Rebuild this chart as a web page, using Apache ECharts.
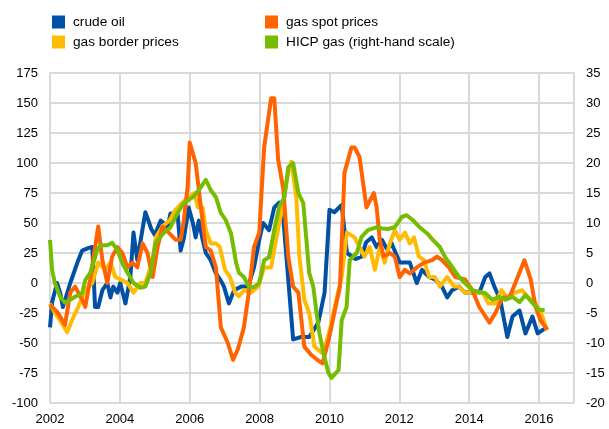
<!DOCTYPE html>
<html>
<head>
<meta charset="utf-8">
<script src="https://cdn.jsdelivr.net/npm/echarts@6/dist/echarts.min.js"></script>
<style>
  html, body { margin: 0; padding: 0; background: #fff; }
  #chart { width: 609px; height: 429px; }
</style>
</head>
<body>
<div id="chart"></div>
<script>
// [year, annual % change]
const crudeOil = [
  [2002.00,-37],[2002.06,-16],[2002.20,0],[2002.29,-8],[2002.37,-20],[2002.58,0],[2002.81,19],[2002.92,27],
  [2003.09,29],[2003.21,30],[2003.29,-20],[2003.38,-20],[2003.50,-6],[2003.64,0],[2003.73,-12],[2003.81,-3],
  [2003.93,-8],[2004.01,0],[2004.16,-17],[2004.30,5],[2004.39,42],[2004.50,19],[2004.73,59],[2004.90,45],
  [2005.00,40],[2005.17,52],[2005.37,47],[2005.45,58],[2005.65,58],[2005.74,27],[2005.83,37],[2005.97,63],
  [2006.09,50],[2006.17,38],[2006.26,52],[2006.37,36],[2006.46,25],[2006.60,19],[2006.75,8],[2006.89,2],
  [2006.98,-3],[2007.12,-17],[2007.27,-6],[2007.47,-3],[2007.67,-3],[2007.84,13],[2007.99,36],[2008.10,50],
  [2008.27,44],[2008.42,63],[2008.56,67],[2008.68,53],[2008.82,3],[2008.96,-47],[2009.19,-45],[2009.42,-45],
  [2009.68,-33],[2009.86,-8],[2010.00,61],[2010.14,59],[2010.35,65],[2010.50,25],[2010.75,20],[2010.92,22],
  [2011.05,34],[2011.21,38],[2011.35,30],[2011.50,36],[2011.65,28],[2011.78,33],[2012.01,17],[2012.30,17],
  [2012.50,0],[2012.65,11],[2012.85,5],[2013.02,3],[2013.22,-3],[2013.37,-12],[2013.51,-6],[2013.71,-3],
  [2013.88,-8],[2014.09,-8],[2014.29,-8],[2014.46,5],[2014.58,8],[2014.72,-3],[2014.89,-14],[2015.09,-45],
  [2015.24,-28],[2015.44,-23],[2015.61,-42],[2015.81,-28],[2015.96,-42],[2016.16,-38]
];
const gasSpot = [
  [2002.00,-18],[2002.23,-25],[2002.43,-35],[2002.58,-8],[2002.72,-3],[2002.92,-14],[2003.01,-20],[2003.15,3],
  [2003.38,47],[2003.50,19],[2003.64,0],[2003.78,22],[2003.93,30],[2004.07,25],[2004.22,13],[2004.36,17],
  [2004.50,13],[2004.65,33],[2004.79,25],[2004.94,5],[2005.08,30],[2005.22,47],[2005.40,42],[2005.60,36],
  [2005.74,36],[2005.83,52],[2005.94,80],[2006.00,117],[2006.17,100],[2006.32,63],[2006.46,30],[2006.60,27],
  [2006.75,13],[2006.89,-37],[2007.09,-50],[2007.24,-64],[2007.38,-55],[2007.55,-37],[2007.70,-6],[2007.84,30],
  [2007.99,42],[2008.13,113],[2008.33,154],[2008.42,154],[2008.53,103],[2008.68,78],[2008.82,22],[2008.96,-3],
  [2009.11,-8],[2009.28,-53],[2009.48,-60],[2009.65,-64],[2009.80,-67],[2009.98,-47],[2010.16,-22],[2010.30,-3],
  [2010.43,92],[2010.63,113],[2010.72,113],[2010.86,105],[2011.06,63],[2011.27,75],[2011.35,63],[2011.44,36],
  [2011.55,22],[2011.73,25],[2011.87,22],[2012.01,5],[2012.16,11],[2012.30,8],[2012.50,13],[2012.71,17],
  [2012.94,19],[2013.08,22],[2013.22,19],[2013.42,13],[2013.60,5],[2013.88,3],[2014.09,-6],[2014.29,-20],
  [2014.58,-33],[2014.75,-25],[2014.95,-12],[2015.15,-12],[2015.32,0],[2015.58,19],[2015.76,3],[2015.90,-20],
  [2016.04,-31],[2016.24,-39]
];
const gasBorder = [
  [2002.00,-17],[2002.14,-25],[2002.29,-31],[2002.49,-41],[2002.63,-31],[2002.81,-20],[2003.01,-6],[2003.21,0],
  [2003.38,17],[2003.58,11],[2003.73,17],[2003.87,5],[2004.01,3],[2004.22,0],[2004.39,-8],[2004.59,0],
  [2004.73,0],[2004.94,19],[2005.03,38],[2005.22,47],[2005.42,52],[2005.59,61],[2005.79,67],[2005.99,72],
  [2006.14,75],[2006.23,63],[2006.37,63],[2006.46,44],[2006.60,33],[2006.75,33],[2006.86,30],[2007.01,11],
  [2007.15,5],[2007.30,-8],[2007.41,-11],[2007.55,-6],[2007.76,-8],[2007.96,-3],[2008.13,13],[2008.33,13],
  [2008.47,36],[2008.62,58],[2008.82,92],[2008.91,101],[2009.05,72],[2009.14,22],[2009.28,-14],[2009.42,-25],
  [2009.57,-53],[2009.77,-58],[2009.90,-50],[2010.03,-37],[2010.15,-20],[2010.35,5],[2010.50,42],[2010.72,38],
  [2010.86,30],[2011.00,22],[2011.15,30],[2011.30,11],[2011.44,30],[2011.58,17],[2011.73,33],[2011.87,44],
  [2012.01,36],[2012.16,42],[2012.30,33],[2012.42,38],[2012.56,22],[2012.71,19],[2012.85,5],[2013.02,5],
  [2013.16,-3],[2013.37,5],[2013.57,-3],[2013.71,-3],[2013.88,-8],[2014.17,-8],[2014.38,-8],[2014.55,-17],
  [2014.75,-17],[2014.92,-6],[2015.09,-12],[2015.32,-8],[2015.52,-6],[2015.69,-12],[2015.90,-17],[2016.10,-28],
  [2016.21,-39]
];
// right-hand scale
const hicpGas = [
  [2002.00,7.2],[2002.06,2.2],[2002.14,0],[2002.29,-2.3],[2002.43,-3.3],[2002.58,-2.8],[2002.72,-2.3],[2002.92,-1.7],
  [2003.01,0.5],[2003.15,1.7],[2003.24,3.3],[2003.35,5.5],[2003.45,6.3],[2003.64,6.3],[2003.78,6.7],[2003.93,5.5],
  [2004.07,3.3],[2004.22,1.7],[2004.39,0],[2004.59,-0.8],[2004.73,-0.6],[2004.88,1.7],[2005.02,6.7],[2005.25,8.3],
  [2005.45,9.3],[2005.65,11.7],[2005.83,13.3],[2006.09,14.3],[2006.26,15.5],[2006.46,17.2],[2006.60,15.5],[2006.75,14.3],
  [2006.89,11.7],[2007.03,10.5],[2007.18,8.3],[2007.33,3.3],[2007.41,1.7],[2007.55,1],[2007.70,-0.7],[2007.84,-0.7],
  [2007.99,0],[2008.13,3.8],[2008.27,4.3],[2008.42,8.8],[2008.56,12.7],[2008.71,14.3],[2008.82,19.3],[2008.96,20],
  [2009.11,15],[2009.25,13.3],[2009.34,7.2],[2009.42,1.7],[2009.54,-0.7],[2009.63,-5],[2009.71,-8.3],[2009.83,-11.7],
  [2009.97,-15],[2010.06,-15.8],[2010.26,-14.5],[2010.35,-6.2],[2010.49,-4],[2010.58,3.8],[2010.78,5],[2010.92,7.7],
  [2011.10,8.8],[2011.36,9.3],[2011.50,9.1],[2011.67,9.0],[2011.87,9.3],[2012.07,11],[2012.21,11.3],[2012.38,10.5],
  [2012.58,9.3],[2012.79,8.3],[2012.96,7.2],[2013.16,6],[2013.31,4.3],[2013.51,2.7],[2013.71,1],[2013.88,0],
  [2014.09,-1.2],[2014.29,-1.5],[2014.46,-1.7],[2014.66,-2.8],[2014.86,-2.3],[2015.03,-2.8],[2015.24,-2.3],[2015.44,-3.2],
  [2015.61,-2],[2015.81,-3.3],[2016.01,-4.5],[2016.16,-4.5]
];

const COLORS = { oil: '#0050a5', spot: '#ff6400', border: '#ffbb00', hicp: '#76bc00' };
const FONT = 'Liberation Sans, Arial, sans-serif';
const GRID_LINE = { color: '#d9d9d9', width: 2 };

const chart = echarts.init(document.getElementById('chart'));

function lineSeries(name, data, color, yIndex, z) {
  return {
    name, type: 'line', data, yAxisIndex: yIndex,
    showSymbol: false, symbol: 'none', smooth: false, z,
    lineStyle: { color, width: 4, join: 'round' },
    itemStyle: { color }
  };
}

const legendBase = {
  orient: 'vertical', top: 10, icon: 'rect',
  itemWidth: 13, itemHeight: 13, itemGap: 6,
  textStyle: { fontSize: 13.7, color: '#000', fontFamily: FONT, padding: [0, 0, 0, 3] }
};

chart.setOption({
  animation: false,
  textStyle: { fontFamily: FONT },
  legend: [
    Object.assign({ left: 47, data: ['crude oil', 'gas border prices'] }, legendBase),
    Object.assign({ left: 260, data: ['gas spot prices', 'HICP gas (right-hand scale)'] }, legendBase)
  ],
  grid: { left: 50, right: 35, top: 73, bottom: 26 },
  xAxis: {
    type: 'value', min: 2002, max: 2017, interval: 2,
    axisLine: { show: true, lineStyle: GRID_LINE },
    axisTick: { show: false },
    splitLine: { show: true, lineStyle: GRID_LINE },
    axisLabel: {
      fontSize: 13, color: '#000', margin: 10, showMaxLabel: false,
      formatter: v => (v === 2017 ? '' : String(v))
    }
  },
  yAxis: [
    {
      type: 'value', min: -100, max: 175, interval: 25,
      axisLine: { show: true, lineStyle: GRID_LINE },
      axisTick: { show: false },
      splitLine: { show: true, lineStyle: GRID_LINE },
      axisLabel: { fontSize: 13, color: '#000', margin: 12 }
    },
    {
      type: 'value', position: 'right', min: -20, max: 35, interval: 5,
      axisLine: { show: true, lineStyle: GRID_LINE },
      axisTick: { show: false },
      splitLine: { show: false },
      axisLabel: { fontSize: 13, color: '#000', margin: 12 }
    }
  ],
  series: [
    lineSeries('crude oil', crudeOil, COLORS.oil, 0, 2),
    lineSeries('gas border prices', gasBorder, COLORS.border, 0, 3),
    lineSeries('gas spot prices', gasSpot, COLORS.spot, 0, 4),
    lineSeries('HICP gas (right-hand scale)', hicpGas, COLORS.hicp, 1, 5)
  ]
});

window.addEventListener('resize', () => chart.resize());
</script>
</body>
</html>
